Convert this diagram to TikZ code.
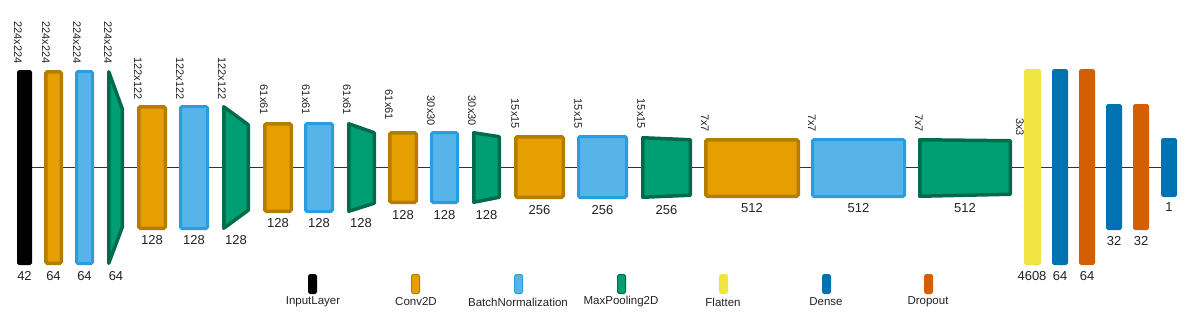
\documentclass[tikz,border=0pt]{standalone}
\usepackage{fontspec}
\setmainfont{Liberation Sans}
\usetikzlibrary{backgrounds}
\definecolor{cfill}{HTML}{E69F00}
\definecolor{cdraw}{HTML}{B57D00}
\definecolor{bfill}{HTML}{56B4E9}
\definecolor{bdraw}{HTML}{2A9DE0}
\definecolor{pfill}{HTML}{009E73}
\definecolor{pdraw}{HTML}{006B4C}
\definecolor{ffill}{HTML}{F0E442}
\definecolor{dfill}{HTML}{0072B2}
\definecolor{rfill}{HTML}{D55E00}
\definecolor{txt}{HTML}{222222}
\definecolor{linec}{HTML}{333333}
\tikzset{
  base/.style={inner sep=0pt, outer sep=0pt, rounded corners=1.5pt},
  input/.style={base, fill=black, draw=black},
  conv/.style={base, fill=cfill, draw=cdraw},
  bn/.style={base, fill=bfill, draw=bdraw},
  pool/.style={fill=pfill, draw=pdraw, line width=3.5pt, line join=round},
  flat/.style={base, fill=ffill, draw=ffill},
  dense/.style={base, fill=dfill, draw=dfill},
  drop/.style={base, fill=rfill, draw=rfill},
  toplab/.style={rotate=-90, anchor=east, inner sep=0pt, text=txt, font=\fontsize{11}{12}\selectfont},
  botlab/.style={inner sep=0pt, text=txt, font=\fontsize{13}{14}\selectfont},
  leglab/.style={inner sep=0pt, text=txt, font=\fontsize{11.5}{12}\selectfont},
  conn/.style={draw=linec, line width=0.8pt},
}
% name, style, x1, y1, x2, y2, line width
\newcommand\lay[7]{%
  \node[#2, line width=#7pt, minimum width={(#5-#3-#7)*1pt}, minimum height={(#6-#4-#7)*1pt}] (#1) at ({(#3+#5)/2},{(#4+#6)/2}) {};}
% name, x1, y1top, y1bot, x2, y2top, y2bot
\newcommand\trap[7]{%
  \draw[pool] ({#2+1.75},{#3+1.75}) -- ({#5-1.75},{#6+1.75}) -- ({#5-1.75},{#7-1.75}) -- ({#2+1.75},{#4-1.75}) -- cycle;
  \coordinate (#1) at ({(#2+#5)/2},{(#3+#4)/2});}
\begin{document}
\begin{tikzpicture}[x=1pt,y=-1pt]
\useasboundingbox (0,0) rectangle (1196,314);
% layers
\lay{in}{input}{17}{70}{32}{265}{1}
\lay{c1}{conv}{44}{70}{63}{265}{3.5}
\lay{b1}{bn}{75}{70}{94}{265}{3}
\trap{p1}{107}{70}{265}{124}{107}{229}
\lay{c2}{conv}{137}{105}{167}{230}{3.5}
\lay{b2}{bn}{179}{105}{209}{230}{3}
\trap{p2}{222}{105}{230}{250}{123}{212}
\lay{c3}{conv}{263}{122}{293}{213}{3.5}
\lay{b3}{bn}{304}{122}{334}{213}{3}
\trap{p3}{347}{122}{213}{376}{131}{205}
\lay{c4}{conv}{388}{131}{418}{204}{3.5}
\lay{b4}{bn}{430}{131}{459}{204}{3}
\trap{p4}{472}{131}{204}{501}{135}{199}
\lay{c5}{conv}{514}{135}{565}{199}{3.5}
\lay{b5}{bn}{577}{135}{628}{199}{3}
\trap{p5}{641}{136}{199}{692}{138}{197}
\lay{c6}{conv}{704}{138}{800}{198}{3.5}
\lay{b6}{bn}{811}{138}{906}{198}{3}
\trap{p6}{918}{138}{198}{1012}{139}{196}
\lay{f}{flat}{1024}{69}{1041}{265}{1}
\lay{d1}{dense}{1052}{69}{1068}{265}{1}
\lay{r1}{drop}{1079}{69}{1095}{265}{1}
\lay{d2}{dense}{1106}{104}{1122}{230}{1}
\lay{r2}{drop}{1133}{104}{1149}{230}{1}
\lay{d3}{dense}{1161}{138}{1177}{197}{1}
% connector
\begin{scope}[on background layer]
\draw[conn] (in.east) -- (d3.west);
\end{scope}
% top labels
\node[toplab] (t1) at (18,64) {224x224};
\node[toplab] (t2) at (46,64) {224x224};
\node[toplab] (t3) at (77,64) {224x224};
\node[toplab] (t4) at (108,64) {224x224};
\node[toplab] (t5) at (138,100) {122x122};
\node[toplab] (t6) at (180,100) {122x122};
\node[toplab] (t7) at (222,100) {122x122};
\node[toplab] (t8) at (264,115) {61x61};
\node[toplab] (t9) at (306,115) {61x61};
\node[toplab] (t10) at (347,115) {61x61};
\node[toplab] (t11) at (389,120) {61x61};
\node[toplab] (t12) at (431,126) {30x30};
\node[toplab] (t13) at (472,126) {30x30};
\node[toplab] (t14) at (515,129) {15x15};
\node[toplab] (t15) at (578,129) {15x15};
\node[toplab] (t16) at (641,129) {15x15};
\node[toplab] (t17) at (705,132) {7x7};
\node[toplab] (t18) at (812,132) {7x7};
\node[toplab] (t19) at (919,132) {7x7};
\node[toplab] (t20) at (1020,136) {3x3};
% bottom labels
\node[botlab] (n1) at (24.5,276) {42};
\node[botlab] (n2) at (53.5,276) {64};
\node[botlab] (n3) at (84.5,276) {64};
\node[botlab] (n4) at (116,276) {64};
\node[botlab] (n5) at (152,240) {128};
\node[botlab] (n6) at (194,240) {128};
\node[botlab] (n7) at (236,240) {128};
\node[botlab] (n8) at (278,223) {128};
\node[botlab] (n9) at (319,223) {128};
\node[botlab] (n10) at (361,223) {128};
\node[botlab] (n11) at (403,215) {128};
\node[botlab] (n12) at (444.5,215) {128};
\node[botlab] (n13) at (486.5,215) {128};
\node[botlab] (n14) at (539.5,210) {256};
\node[botlab] (n15) at (602.5,210) {256};
\node[botlab] (n16) at (666.5,210) {256};
\node[botlab] (n17) at (752,208) {512};
\node[botlab] (n18) at (858.5,208) {512};
\node[botlab] (n19) at (965,208) {512};
\node[botlab] (n20) at (1032,276) {4608};
\node[botlab] (n21) at (1060,276) {64};
\node[botlab] (n22) at (1087,276) {64};
\node[botlab] (n23) at (1114,241) {32};
\node[botlab] (n24) at (1141,241) {32};
\node[botlab] (n25) at (1169,207) {1};
% legend
\lay{l1}{input}{308}{274}{317}{294}{1}
\lay{l2}{conv}{411}{274}{420}{294}{1}
\lay{l3}{bn}{514}{274}{523}{294}{1}
\lay{l4}{pool, base, line width=1pt}{617}{274}{626}{294}{1}
\lay{l5}{flat}{719}{274}{728}{294}{1}
\lay{l6}{dense}{822}{274}{831}{294}{1}
\lay{l7}{drop}{924}{274}{933}{294}{1}
\node[leglab] (g1) at (313,302) {InputLayer};
\node[leglab] (g2) at (416,302) {Conv2D};
\node[leglab] (g3) at (518,302) {BatchNormalization};
\node[leglab] (g4) at (621,302) {MaxPooling2D};
\node[leglab] (g5) at (723,302) {Flatten};
\node[leglab] (g6) at (826,302) {Dense};
\node[leglab] (g7) at (928,302) {Dropout};
\end{tikzpicture}
\end{document}
